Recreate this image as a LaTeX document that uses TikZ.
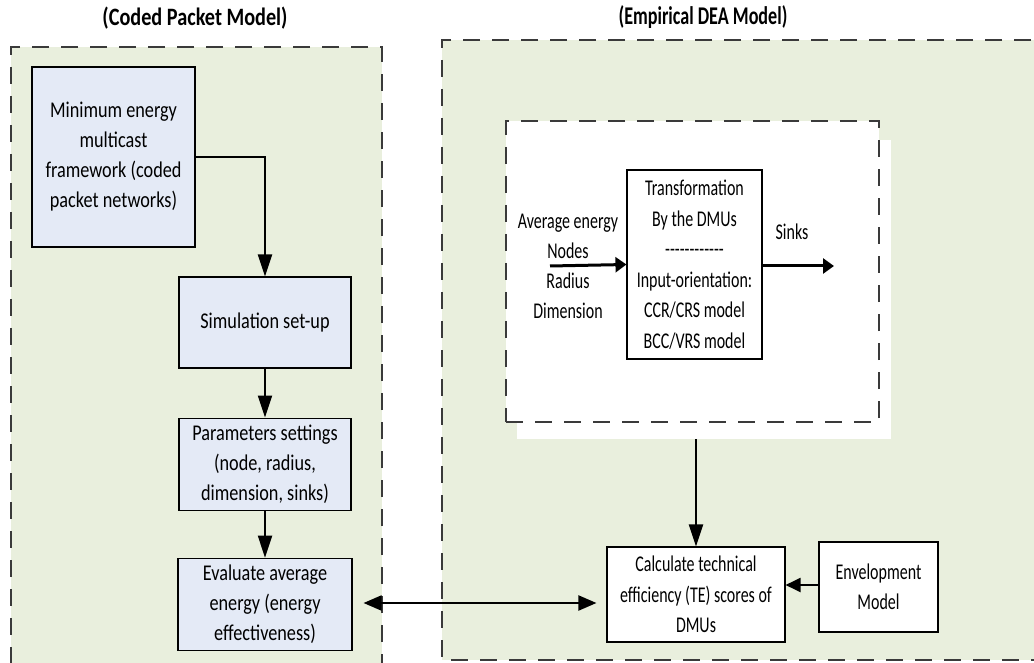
\documentclass[tikz,border=0pt]{standalone}
\usepackage{fontspec}
\setmainfont{Carlito}
\newfontfamily\cpmfont[FakeStretch=0.81]{Carlito}
\newfontfamily\deafont[FakeStretch=0.71]{Carlito}
\usepackage{xcolor}
\usetikzlibrary{arrows.meta,positioning}

\definecolor{panelgreen}{HTML}{E9EFDD}
\definecolor{boxblue}{HTML}{E4EAF6}
\definecolor{dashgray}{HTML}{3A3A3A}

\begin{document}
\begin{tikzpicture}[
x=1pt, y=-1pt,
node distance=48pt and 34pt,
box/.style={draw, line width=1.1pt, fill=boxblue, align=center, inner sep=0pt, font=\cpmfont\fontsize{22.5}{30}\selectfont},
wbox/.style={box, fill=white, font=\deafont\fontsize{22.5}{30.5}\selectfont},
panel/.style={draw=dashgray, line width=2pt, dash pattern=on 17pt off 12pt},
arr/.style={-{Triangle[length=22pt, width=14pt]}, line width=2pt},
darr/.style={{Triangle[length=18pt, width=15pt]}-{Triangle[length=18pt, width=15pt]}, line width=2pt},
sarr/.style={-{Triangle[length=11pt, width=15pt]}, line width=3pt}
]
\clip (0,0) rectangle (1034,663);

% panels
\node[font=\cpmfont\bfseries\fontsize{25}{28}\selectfont] (cpmtitle) at (195,18) {(Coded Packet Model)};
\node[font=\deafont\bfseries\fontsize{25.5}{28}\selectfont] (deatitle) at (703,17) {(Empirical DEA Model)};
\draw[panel, fill=panelgreen] (382,700) -- (382,47) -- (11,47) -- (11,700);
\draw[panel, fill=panelgreen] (1060,40) -- (442,40) -- (442,660) -- (1060,660);

% inner DEA block
\node[fill=white, minimum width=374pt, minimum height=299pt] (deashadow) at (704,289.5) {};
\node[panel, fill=white, minimum width=373pt, minimum height=301pt] (deabox) at (692.5,271.5) {};

% coded packet side
\node[box, minimum width=163pt, minimum height=180pt] (mef) at (113.5,157) {Minimum energy\\multicast\\framework (coded\\packet networks)};
\node[box, minimum width=172pt, minimum height=91pt] (sim) at (265,322.5) {Simulation set-up};
\node[box, minimum width=172pt, minimum height=92pt, below=49pt of sim] (par) {Parameters settings\\(node, radius,\\dimension, sinks)};
\node[box, minimum width=174pt, minimum height=92pt, below=47pt of par] (eval) {Evaluate average\\energy (energy\\effectiveness)};

% DEA side
\node[wbox, minimum width=135pt, minimum height=189pt] (trans) at (694.5,264.5) {Transformation\\By the DMUs\\-{}-{}-{}-{}-{}-{}-{}-{}-{}-{}-{}-\\Input-orientation:\\CCR/CRS model\\BCC/VRS model};
\node[align=center, font=\deafont\fontsize{22.5}{30}\selectfont] (inputs) at (568,266) {Average energy\\Nodes\\Radius\\Dimension};
\node[font=\deafont\fontsize{22.5}{24}\selectfont] (sinks) at (792,232) {Sinks};
\coordinate (inbeg) at (550,266);
\coordinate (sinkend) at (834,266);
\node[wbox, minimum width=178pt, minimum height=95pt] (calc) at (696,594.5) {Calculate technical\\efficiency (TE) scores of\\DMUs};
\node[wbox, minimum width=119pt, minimum height=90pt] (env) at (878.5,587) {Envelopment\\Model};

\draw[arr] (mef.east) -| (sim.north);
\draw[arr] (sim) -- (par);
\draw[arr] (par) -- (eval);
\draw[sarr] (inbeg) -- (trans.west);
\draw[sarr] (trans.east |- sinkend) -- (sinkend);
\draw[arr] (deashadow.south -| calc.north) -- (calc.north);
\draw[arr, -{Triangle[length=15pt, width=14pt]}] (env.west |- 0,585) -- (calc.east |- 0,585);
\draw[darr, shorten <=11pt, shorten >=10pt] (eval.east |- 0,603) -- (calc.west |- 0,603);
\end{tikzpicture}
\end{document}
